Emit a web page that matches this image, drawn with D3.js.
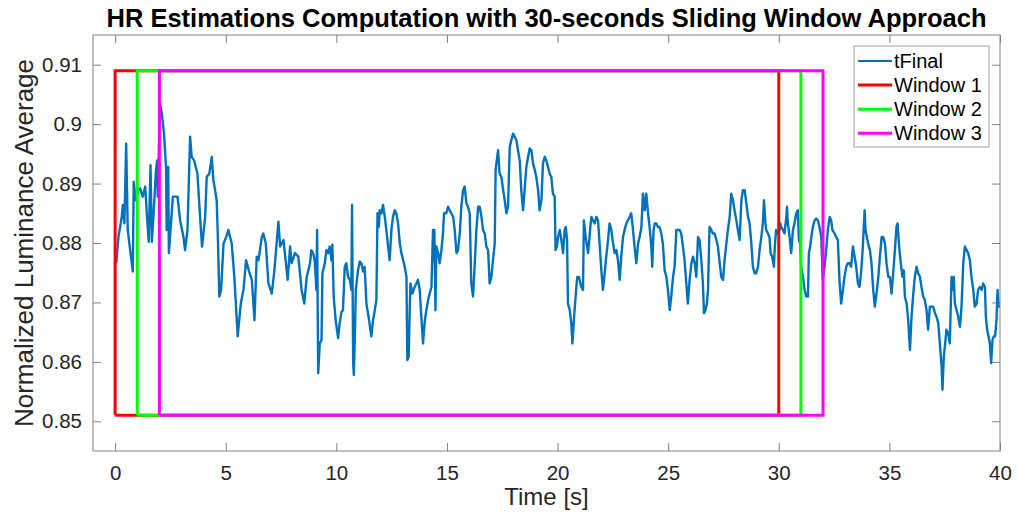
<!DOCTYPE html>
<html>
<head>
<meta charset="utf-8">
<script src="https://cdn.jsdelivr.net/npm/d3@7"></script>
<style>
  body { margin: 0; background: #fff; }
  svg { display: block; }
  text { font-family: "Liberation Sans", Arial, Helvetica, sans-serif; }
</style>
</head>
<body>
<svg id="chart" width="1018" height="517"></svg>
<script>
// Axis ticks
const xTicks = [0, 5, 10, 15, 20, 25, 30, 35, 40];
const yTicks = [0.85, 0.86, 0.87, 0.88, 0.89, 0.9, 0.91];
const yTickLabels = ["0.85", "0.86", "0.87", "0.88", "0.89", "0.9", "0.91"];

// Sliding windows: start time [s], length [s], drawn amplitude bounds
const windowStarts = [0, 1, 2];
const windowLength = 30;
const windowBounds = [0.851, 0.909];
const windowNames = ["Window 1", "Window 2", "Window 3"];

// tFinal: [time s, normalized luminance average]
const tFinal = [
  [0.05,0.8766],[0.15,0.8810],[0.30,0.8844],[0.35,0.8864],[0.42,0.8833],[0.50,0.8967],[0.57,0.8822],[0.68,0.8788],
  [0.80,0.8752],[0.84,0.8903],[0.93,0.8872],[1.05,0.8889],[1.13,0.8892],[1.25,0.8878],[1.36,0.8895],[1.46,0.8833],
  [1.52,0.8802],[1.60,0.8931],[1.66,0.8802],[1.73,0.8844],[1.85,0.8923],[1.90,0.8939],[1.93,0.8878],[2.03,0.9035],
  [2.11,0.9018],[2.21,0.8984],[2.30,0.8928],[2.33,0.8822],[2.40,0.8928],[2.43,0.8783],[2.61,0.8878],[2.82,0.8878],
  [2.94,0.8838],[3.09,0.8810],[3.16,0.8788],[3.27,0.8822],[3.39,0.8979],[3.46,0.8945],[3.57,0.8939],[3.72,0.8917],
  [3.84,0.8844],[3.93,0.8794],[4.07,0.8844],[4.14,0.8911],[4.26,0.8917],[4.37,0.8945],[4.44,0.8906],[4.52,0.8889],
  [4.59,0.8872],[4.64,0.8816],[4.71,0.8710],[4.79,0.8721],[4.90,0.8799],[5.02,0.8810],[5.12,0.8822],[5.27,0.8799],
  [5.39,0.8743],[5.54,0.8643],[5.68,0.8698],[5.80,0.8721],[5.92,0.8771],[6.04,0.8754],[6.18,0.8738],[6.30,0.8670],
  [6.40,0.8777],[6.48,0.8771],[6.63,0.8810],[6.70,0.8816],[6.81,0.8799],[6.93,0.8732],[7.08,0.8715],[7.20,0.8754],
  [7.38,0.8836],[7.46,0.8794],[7.61,0.8805],[7.80,0.8738],[7.91,0.8794],[7.98,0.8766],[8.13,0.8783],[8.28,0.8777],
  [8.43,0.8721],[8.55,0.8698],[8.66,0.8743],[8.81,0.8766],
  [8.87,0.8788],[8.95,0.8783],[9.02,0.8771],[9.10,0.8721],[9.13,0.8822],[9.18,0.8581],[9.25,0.8631],[9.33,0.8637],
  [9.37,0.8749],[9.48,0.8766],[9.55,0.8788],[9.63,0.8783],[9.70,0.8794],[9.78,0.8771],[9.82,0.8797],[9.88,0.8710],
  [9.97,0.8670],[10.08,0.8640],[10.15,0.8665],[10.23,0.8684],[10.30,0.8687],[10.38,0.8760],[10.45,0.8766],[10.53,0.8743],
  [10.61,0.8738],[10.68,0.8721],[10.71,0.8864],[10.76,0.8598],[10.79,0.8578],[10.83,0.8631],[10.88,0.8721],[10.98,0.8754],
  [11.06,0.8769],[11.13,0.8766],[11.21,0.8752],[11.28,0.8760],[11.36,0.8698],[11.48,0.8670],[11.58,0.8643],[11.66,0.8670],
  [11.74,0.8687],[11.81,0.8704],[11.86,0.8850],[11.92,0.8827],[11.96,0.8855],[12.04,0.8850],[12.11,0.8864],[12.19,0.8844],
  [12.26,0.8822],[12.34,0.8794],[12.41,0.8771],[12.49,0.8822],[12.56,0.8844],[12.64,0.8855],[12.71,0.8850],[12.79,0.8833],
  [12.87,0.8799],[12.94,0.8783],[13.02,0.8771],[13.09,0.8760],[13.17,0.8743],[13.21,0.8603],[13.27,0.8609],[13.32,0.8693],
  [13.35,0.8732],[13.44,0.8715],[13.54,0.8726],[13.62,0.8732],[13.69,0.8738],[13.77,0.8721],[13.84,0.8676],[13.92,0.8631],
  [14.00,0.8670],[14.07,0.8687],[14.15,0.8704],[14.22,0.8715],[14.30,0.8726],[14.37,0.8822],[14.40,0.8771],[14.43,0.8822],
  [14.48,0.8687],[14.52,0.8794],[14.60,0.8783],[14.67,0.8766],[14.75,0.8788],[14.82,0.8816],[14.87,0.8850],[14.97,0.8850],
  [15.05,0.8861],[15.12,0.8855],[15.20,0.8850],[15.28,0.8844],[15.35,0.8822],[15.43,0.8783],[15.50,0.8788],[15.58,0.8816],
  [15.65,0.8861],[15.73,0.8889],[15.80,0.8895],[15.88,0.8867],[15.95,0.8861],[16.03,0.8850],[16.10,0.8732],[16.18,0.8710],
  [16.25,0.8760],[16.33,0.8822],[16.41,0.8861],[16.48,0.8861],[16.56,0.8844],[16.63,0.8822],[16.71,0.8816],[16.78,0.8794],
  [16.86,0.8788],[16.93,0.8732],[17.01,0.8743],[17.08,0.8771],[17.16,0.8799],[17.20,0.8923],[17.31,0.8956],[17.38,0.8917],
  [17.46,0.8911],[17.54,0.8889],[17.61,0.8872],[17.69,0.8850],[17.76,0.8861],[17.84,0.8962],[17.91,0.8973],[17.99,0.8984],
  [18.06,0.8979],[18.14,0.8973],[18.21,0.8956],[18.29,0.8939],[18.36,0.8889],[18.44,0.8855],[18.51,0.8889],[18.59,0.8928],
  [18.67,0.8945],[18.74,0.8959],[18.82,0.8956],[18.89,0.8934],[18.97,0.8923],[19.04,0.8911],[19.12,0.8889],
  [19.19,0.8855],[19.27,0.8872],[19.34,0.8934],[19.42,0.8945],[19.49,0.8939],[19.57,0.8928],[19.64,0.8917],[19.72,0.8911],
  [19.79,0.8883],[19.87,0.8878],[19.91,0.8788],[19.97,0.8794],[20.02,0.8810],[20.10,0.8822],[20.17,0.8805],[20.25,0.8783],
  [20.32,0.8822],[20.37,0.8827],[20.43,0.8805],[20.47,0.8698],[20.55,0.8687],[20.62,0.8665],[20.67,0.8631],[20.73,0.8665],
  [20.77,0.8687],[20.85,0.8726],[20.89,0.8743],[20.97,0.8743],[21.03,0.8732],[21.07,0.8726],[21.15,0.8721],[21.19,0.8838],
  [21.27,0.8810],[21.38,0.8783],[21.42,0.8799],[21.48,0.8827],[21.53,0.8844],[21.60,0.8838],[21.68,0.8833],[21.75,0.8844],
  [21.83,0.8838],[21.90,0.8799],[21.98,0.8754],[22.05,0.8721],[22.13,0.8749],[22.20,0.8777],[22.28,0.8805],[22.35,0.8833],
  [22.43,0.8822],[22.51,0.8799],[22.58,0.8783],[22.66,0.8788],[22.73,0.8771],[22.81,0.8738],[22.88,0.8777],[22.96,0.8810],
  [23.03,0.8822],[23.11,0.8833],[23.18,0.8838],[23.26,0.8844],[23.33,0.8850],[23.41,0.8822],[23.48,0.8794],[23.56,0.8766],
  [23.64,0.8799],[23.71,0.8810],[23.79,0.8827],[23.86,0.8883],[23.94,0.8855],[24.01,0.8883],[24.09,0.8850],[24.16,0.8827],
  [24.24,0.8794],[24.28,0.8760],[24.34,0.8822],[24.39,0.8833],[24.46,0.8833],[24.54,0.8827],[24.61,0.8827],[24.69,0.8816],
  [24.76,0.8799],[24.84,0.8754],[24.92,0.8743],[24.99,0.8721],[25.07,0.8687],[25.14,0.8710],[25.22,0.8743],[25.29,0.8760],
  [25.37,0.8822],[25.44,0.8822],[25.52,0.8822],[25.59,0.8816],[25.67,0.8794],[25.74,0.8771],[25.82,0.8732],[25.89,0.8698],
  [25.97,0.8738],[26.05,0.8766],[26.12,0.8777],[26.20,0.8766],[26.27,0.8743],[26.35,0.8810],[26.42,0.8805],[26.50,0.8771],
  [26.57,0.8732],[26.62,0.8682],[26.69,0.8687],[26.75,0.8698],[26.80,0.8721],[26.87,0.8827],[26.95,0.8822],[27.02,0.8816],
  [27.10,0.8816],[27.18,0.8805],[27.25,0.8794],[27.33,0.8766],[27.40,0.8743],[27.48,0.8738],[27.55,0.8771],[27.63,0.8799],
  [27.70,0.8822],[27.78,0.8844],[27.85,0.8883],[27.93,0.8872],[28.00,0.8855],[28.08,0.8838],[28.15,0.8822],[28.23,0.8805],
  [28.31,0.8872],[28.38,0.8889],[28.46,0.8889],[28.53,0.8867],[28.61,0.8844],[28.68,0.8833],[28.76,0.8799],[28.83,0.8760],
  [28.91,0.8749],[28.98,0.8749],[29.06,0.8760],[29.13,0.8788],[29.21,0.8810],[29.28,0.8833],[29.33,0.8872],[29.40,0.8833],
  [29.43,0.8822],[29.51,0.8816],[29.58,0.8810],[29.63,0.8783],[29.70,0.8777],[29.78,0.8760],[29.82,0.8794],[29.88,0.8822],
  [29.96,0.8816],[30.04,0.8822],[30.07,0.8833],[30.11,0.8827],[30.19,0.8822],[30.26,0.8816],[30.34,0.8844],[30.37,0.8861],
  [30.41,0.8833],[30.49,0.8810],[30.56,0.8783],[30.64,0.8822],[30.71,0.8833],[30.79,0.8850],[30.86,0.8855],[30.91,0.8805],
  [30.97,0.8799],[31.01,0.8760],[31.09,0.8743],[31.17,0.8721],[31.24,0.8710],[31.32,0.8710],[31.36,0.8783],[31.42,0.8794],
  [31.47,0.8810],[31.54,0.8827],[31.62,0.8838],[31.69,0.8841],[31.77,0.8838],[31.84,0.8827],[31.92,0.8810],[31.99,0.8738],
  [32.07,0.8760],[32.14,0.8788],[32.22,0.8822],[32.30,0.8844],[32.37,0.8838],[32.42,0.8822],[32.52,0.8816],[32.60,0.8810],
  [32.67,0.8805],[32.75,0.8732],[32.82,0.8698],[32.90,0.8721],[32.97,0.8743],[33.05,0.8760],[33.12,0.8766],[33.20,0.8766],
  [33.27,0.8760],[33.35,0.8794],[33.43,0.8777],[33.50,0.8760],[33.58,0.8732],[33.65,0.8726],[33.73,0.8754],[33.80,0.8794],
  [33.88,0.8855],[33.92,0.8822],[33.98,0.8810],[34.04,0.8799],[34.12,0.8788],[34.19,0.8766],[34.27,0.8721],[34.34,0.8693],
  [34.42,0.8715],[34.50,0.8743],[34.57,0.8777],[34.65,0.8810],[34.72,0.8810],[34.80,0.8799],[34.87,0.8766],[34.95,0.8743],
  [35.02,0.8743],[35.10,0.8715],[35.17,0.8749],[35.25,0.8788],[35.32,0.8827],[35.37,0.8833],[35.44,0.8794],[35.50,0.8771],
  [35.59,0.8743],[35.65,0.8754],[35.70,0.8710],[35.78,0.8698],[35.85,0.8670],[35.93,0.8620],[36.00,0.8676],[36.08,0.8715],
  [36.15,0.8743],[36.23,0.8760],[36.30,0.8749],[36.38,0.8743],[36.45,0.8726],[36.53,0.8710],[36.60,0.8704],[36.68,0.8687],
  [36.75,0.8654],[36.83,0.8693],[36.91,0.8693],[36.98,0.8693],[37.06,0.8682],[37.13,0.8676],[37.21,0.8665],[37.28,0.8631],
  [37.36,0.8592],[37.40,0.8553],[37.46,0.8609],[37.52,0.8631],[37.58,0.8654],[37.66,0.8648],[37.73,0.8631],[37.81,0.8743],
  [37.85,0.8721],[37.91,0.8743],[37.96,0.8698],[38.04,0.8687],[38.11,0.8676],[38.19,0.8659],[38.26,0.8693],[38.34,0.8766],
  [38.41,0.8794],[38.49,0.8788],[38.56,0.8783],[38.64,0.8771],[38.71,0.8743],[38.79,0.8721],[38.86,0.8693],[38.94,0.8698],
  [39.01,0.8721],[39.09,0.8726],[39.17,0.8721],[39.24,0.8732],[39.32,0.8726],[39.36,0.8676],[39.42,0.8654],[39.48,0.8643],
  [39.54,0.8631],[39.60,0.8598],[39.66,0.8637],[39.72,0.8643],[39.78,0.8643],[39.84,0.8670],[39.89,0.8721],[39.93,0.8693],
  [39.99,0.8693]
];

const svg = d3.select("#chart");
const plot = { left: 93, right: 1000, top: 35, bottom: 451 };

const x = d3.scaleLinear().domain([-1, 40]).range([plot.left, plot.right]);
const y = d3.scaleLinear().domain([0.845, 0.915]).range([plot.bottom, plot.top]);

const axisColor = "#808080";
const labelColor = "#262626";
const tickLen = 8;

// Axes with inward ticks (box on all four sides)
function styleAxis(g) {
  g.select(".domain").remove();
  g.selectAll(".tick line").attr("stroke", axisColor);
  g.selectAll(".tick text").attr("fill", labelColor).style("font-size", "20.5px");
}

svg.append("g")
  .attr("transform", `translate(0,${plot.bottom})`)
  .call(d3.axisBottom(x).tickValues(xTicks).tickSizeInner(-tickLen).tickSizeOuter(0).tickPadding(14))
  .call(styleAxis);

svg.append("g")
  .attr("transform", `translate(0,${plot.top})`)
  .call(d3.axisTop(x).tickValues(xTicks).tickSizeInner(-tickLen).tickSizeOuter(0).tickFormat(""))
  .call(styleAxis);

svg.append("g")
  .attr("transform", `translate(${plot.left},0)`)
  .call(d3.axisLeft(y).tickValues(yTicks).tickFormat((d, i) => yTickLabels[i])
        .tickSizeInner(-tickLen).tickSizeOuter(0).tickPadding(11))
  .call(styleAxis);

svg.append("g")
  .attr("transform", `translate(${plot.right},0)`)
  .call(d3.axisRight(y).tickValues(yTicks).tickSizeInner(-tickLen).tickSizeOuter(0).tickFormat(""))
  .call(styleAxis);

svg.append("rect")
  .attr("x", plot.left).attr("y", plot.top)
  .attr("width", plot.right - plot.left).attr("height", plot.bottom - plot.top)
  .attr("fill", "none").attr("stroke", axisColor).attr("stroke-width", 1);

// Signal
const line = d3.line().x(d => x(d[0])).y(d => y(d[1]));
svg.append("path")
  .datum(tFinal)
  .attr("d", line)
  .attr("fill", "none")
  .attr("stroke", "#0072bd")
  .attr("stroke-width", 2.4)
  .attr("stroke-linejoin", "round");

// Window outlines
const windowColors = ["#ff0000", "#00ff00", "#ff00ff"];
windowStarts.forEach((s, i) => {
  const e = s + windowLength;
  const pts = [[s, windowBounds[0]], [s, windowBounds[1]], [e, windowBounds[1]], [e, windowBounds[0]], [s, windowBounds[0]]];
  svg.append("path")
    .datum(pts)
    .attr("d", line)
    .attr("fill", "none")
    .attr("stroke", windowColors[i])
    .attr("stroke-width", 3)
    .attr("stroke-linejoin", "miter");
});

// Title and axis labels
svg.append("text")
  .attr("x", (plot.left + plot.right) / 2).attr("y", 27)
  .attr("text-anchor", "middle")
  .style("font-size", "25.5px").style("font-weight", "bold")
  .attr("fill", "#000")
  .text("HR Estimations Computation with 30-seconds Sliding Window Approach");

svg.append("text")
  .attr("x", (plot.left + plot.right) / 2).attr("y", 505)
  .attr("text-anchor", "middle")
  .style("font-size", "24px")
  .attr("fill", labelColor)
  .text("Time [s]");

svg.append("text")
  .attr("transform", `translate(33,${(plot.top + plot.bottom) / 2}) rotate(-90)`)
  .attr("text-anchor", "middle")
  .style("font-size", "26px")
  .attr("fill", labelColor)
  .text("Normalized Luminance Average");

// Legend
const legendItems = [{ name: "tFinal", color: "#0072bd", w: 2 }]
  .concat(windowNames.map((n, i) => ({ name: n, color: windowColors[i], w: 3 })));
const legend = svg.append("g");
legend.append("rect")
  .attr("x", 854).attr("y", 46).attr("width", 135).attr("height", 101)
  .attr("fill", "#fff").attr("stroke", "#a0a0a0").attr("stroke-width", 1);
legendItems.forEach((item, i) => {
  const cy = 61 + i * 24.1;
  legend.append("line")
    .attr("x1", 858).attr("x2", 892).attr("y1", cy).attr("y2", cy)
    .attr("stroke", item.color).attr("stroke-width", item.w);
  legend.append("text")
    .attr("x", 894).attr("y", cy).attr("dy", "0.35em")
    .style("font-size", "20px").attr("fill", "#000")
    .text(item.name);
});
</script>
</body>
</html>
